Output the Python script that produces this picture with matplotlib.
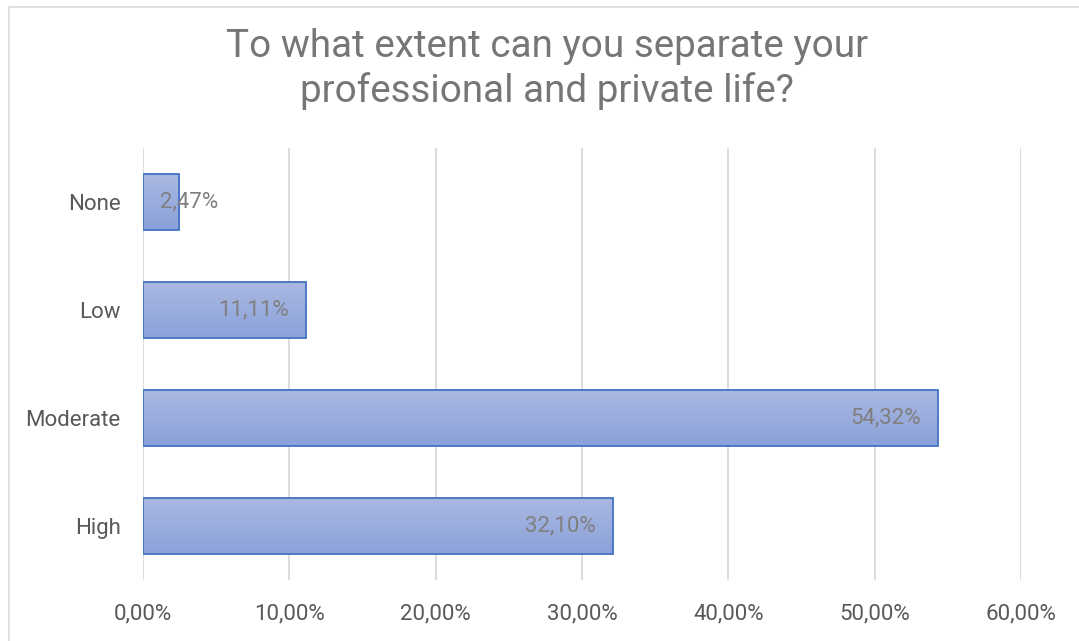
import matplotlib
matplotlib.use("Agg")
import matplotlib.pyplot as plt
import numpy as np
from matplotlib.colors import LinearSegmentedColormap
from matplotlib.patches import Rectangle
from matplotlib.ticker import FuncFormatter, MultipleLocator

categories = ["None", "Low", "Moderate", "High"]
values = [2.47, 11.11, 54.32, 32.10]
title = "To what extent can you separate your\nprofessional and private life?"

plt.rcParams["font.family"] = ["Roboto", "DejaVu Sans"]

W, H = 1079, 641
fig = plt.figure(figsize=(W / 100, H / 100), dpi=100)
ax = fig.add_axes([143 / W, 1 - 580 / H, (1021 - 143) / W, (580 - 148) / H])

# chart border
fig.patches.append(Rectangle((9 / W, -0.1), 1.2, 1 - 7 / H + 0.1, transform=fig.transFigure,
                             fill=False, edgecolor="#d9d9d9", linewidth=1.2))

ypos = np.arange(len(categories))
bar_h = 0.52
grad = LinearSegmentedColormap.from_list("g", ["#aab9e2", "#8ba1d9"])
gradient = np.linspace(0, 1, 256).reshape(-1, 1)

bars = ax.barh(ypos, values, height=bar_h, color="none", edgecolor="#4472c4", linewidth=1.3, zorder=3)
for b in bars:
    x0, y0 = b.get_x(), b.get_y()
    w, h = b.get_width(), b.get_height()
    im = ax.imshow(gradient, cmap=grad, aspect="auto", extent=(x0, x0 + w, y0 + h, y0),
                   zorder=2, interpolation="bilinear")
    im.set_clip_path(b)

ax.set_ylim(len(categories) - 0.5, -0.5)
ax.set_xlim(0, 60)
ax.xaxis.set_major_locator(MultipleLocator(10))
ax.xaxis.set_major_formatter(FuncFormatter(lambda v, p: f"{v:.2f}%".replace(".", ",")))
ax.set_yticks(ypos)
ax.set_yticklabels(categories)
ax.tick_params(axis="both", length=0, labelsize=16, colors="#595959", labelcolor="#595959")
ax.tick_params(axis="x", pad=17)
ax.tick_params(axis="y", pad=16)
ax.grid(axis="x", color="#d9d9d9", linewidth=1.3, zorder=0)
for s in ax.spines.values():
    s.set_visible(False)

for y, v in zip(ypos, values):
    txt = f"{v:.2f}%".replace(".", ",")
    if v < 5:
        ax.annotate(txt, (0, y), xytext=(12.5, 0), textcoords="offset points",
                    ha="left", va="center", fontsize=16, color="#7f7f7f", zorder=4)
    else:
        ax.annotate(txt, (v, y), xytext=(-12, 0), textcoords="offset points",
                    ha="right", va="center", fontsize=16, color="#7f7f7f", zorder=4)

fig.text(547 / W, 1 - 69 / H, title, ha="center", va="center", fontsize=27.8,
         color="#767676", linespacing=1.22)

fig.savefig("out.png", dpi=100)
